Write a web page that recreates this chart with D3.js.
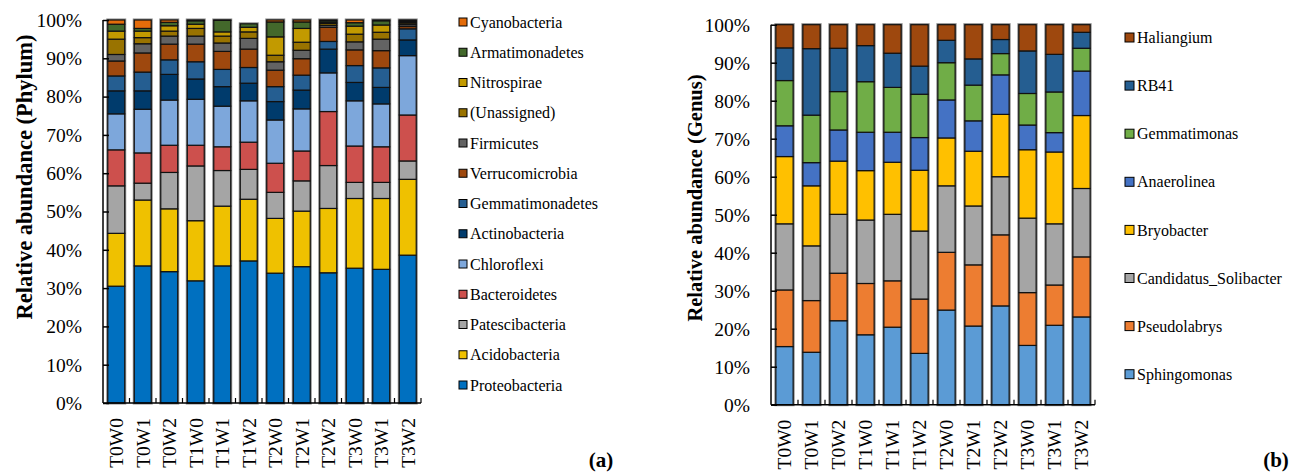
<!DOCTYPE html>
<html>

<head>
  <meta charset='utf-8'>
  <script src='https://cdn.jsdelivr.net/npm/d3@7/dist/d3.min.js'></script>
  <title></title>
  <style>
    body { margin: 0; background: #fff; }
    svg { display: block; }
    text { font-family: 'Liberation Serif', 'Times New Roman', Times, 'DejaVu Serif', serif; }
  </style>
</head>

<body>
  <div id='chart'></div>
  <script>
    var samples = ['T0W0', 'T0W1', 'T0W2', 'T1W0', 'T1W1', 'T1W2', 'T2W0', 'T2W1', 'T2W2', 'T3W0', 'T3W1', 'T3W2'];
    var yTicks = [0, 10, 20, 30, 40, 50, 60, 70, 80, 90, 100];

    // (a) phylum, listed bottom to top of the stack
    var phyla = ['Proteobacteria', 'Acidobacteria', 'Patescibacteria', 'Bacteroidetes', 'Chloroflexi',
      'Actinobacteria', 'Gemmatimonadetes', 'Verrucomicrobia', 'Firmicutes', '(Unassigned)',
      'Nitrospirae', 'Armatimonadetes', 'Cyanobacteria'];
    var phylaColors = ['#0070c0', '#efc100', '#a5a5a5', '#cd504d', '#7da7db',
      '#003b6c', '#255e91', '#9e480e', '#636363', '#997300',
      '#c29a00', '#43682b', '#e46c0a'];
    var proteobacteria = [30.5, 35.8, 34.3, 31.9, 35.8, 37.1, 33.9, 35.6, 34.0, 35.2, 34.9, 38.6];
    var acidobacteria = [13.8, 17.2, 16.4, 15.7, 15.6, 16.1, 14.3, 14.5, 16.8, 18.2, 18.5, 19.8];
    var patescibacteria = [12.4, 4.4, 9.5, 14.3, 9.3, 7.8, 6.8, 7.9, 11.2, 4.2, 4.2, 4.8];
    var bacteroidetes = [9.4, 7.9, 7.1, 5.4, 6.2, 7.1, 7.6, 7.8, 14.1, 9.5, 9.3, 12.0];
    var chloroflexi = [9.4, 11.4, 11.8, 12.0, 10.6, 10.8, 11.3, 11.0, 10.1, 11.8, 11.2, 15.5];
    var actinobacteria = [6.0, 4.8, 6.7, 5.3, 5.1, 4.6, 4.8, 4.9, 6.2, 4.8, 4.3, 4.1];
    var gemmatimonadetes = [3.9, 4.9, 3.8, 4.5, 4.5, 4.1, 3.9, 3.9, 2.0, 4.4, 5.1, 2.9];
    var verrucomicrobia = [3.9, 5.0, 4.1, 4.6, 4.7, 4.8, 4.3, 4.3, 3.7, 4.1, 4.5, 0.6];
    var firmicutes = [1.7, 2.4, 2.1, 2.1, 2.2, 2.8, 2.2, 2.2, 0.5, 2.1, 3.0, 0.5];
    var unassigned = [4.0, 1.6, 1.3, 2.0, 1.8, 1.7, 1.7, 2.1, 0.5, 2.0, 1.8, 0.4];
    var nitrospirae = [2.1, 1.7, 1.4, 1.1, 1.1, 1.2, 4.8, 3.6, 0.3, 2.1, 1.9, 0.3];
    var armatimonadetes = [1.8, 0.7, 0.9, 0.9, 3.0, 0.9, 3.9, 1.7, 0.4, 0.9, 1.1, 0.3];
    var cyanobacteria = [1.1, 2.2, 0.6, 0.2, 0.1, 0.0, 0.5, 0.5, 0.2, 0.7, 0.2, 0.2];
    var phylaValues = [proteobacteria, acidobacteria, patescibacteria, bacteroidetes, chloroflexi,
      actinobacteria, gemmatimonadetes, verrucomicrobia, firmicutes, unassigned,
      nitrospirae, armatimonadetes, cyanobacteria];

    // (b) genus, bottom to top
    var genera = ['Sphingomonas', 'Pseudolabrys', 'Candidatus_Solibacter', 'Bryobacter',
      'Anaerolinea', 'Gemmatimonas', 'RB41', 'Haliangium'];
    var generaColors = ['#5b9bd5', '#ed7d31', '#a5a5a5', '#ffc000', '#4472c4', '#70ad47', '#255e91', '#9e480e'];
    var sphingomonas = [15.3, 13.8, 22.1, 18.4, 20.4, 13.5, 24.9, 20.7, 26.0, 15.6, 20.9, 23.1];
    var pseudolabrys = [14.9, 13.6, 12.5, 13.5, 12.2, 14.3, 15.2, 16.1, 18.7, 13.9, 10.6, 15.8];
    var solibacter = [17.4, 14.4, 15.5, 16.7, 17.5, 17.9, 17.5, 15.5, 15.3, 19.6, 16.1, 18.0];
    var bryobacter = [17.7, 15.8, 14.0, 13.0, 13.7, 16.0, 12.6, 14.4, 16.4, 18.0, 18.9, 19.2];
    var anaerolinea = [8.1, 6.1, 8.2, 10.1, 7.9, 8.6, 10.0, 8.0, 10.4, 6.5, 5.1, 11.7];
    var gemmatimonas = [11.9, 12.5, 10.1, 13.3, 11.8, 11.4, 9.8, 9.4, 5.6, 8.3, 10.7, 6.0];
    var rb41 = [8.6, 17.5, 11.4, 9.5, 9.0, 7.4, 5.9, 6.9, 3.7, 11.2, 9.9, 4.2];
    var haliangium = [6.1, 6.3, 6.2, 5.5, 7.5, 10.9, 4.1, 9.0, 3.9, 6.9, 7.8, 2.0];
    var generaValues = [sphingomonas, pseudolabrys, solibacter, bryobacter, anaerolinea, gemmatimonas, rb41, haliangium];

    var serif = "'Liberation Serif', 'Times New Roman', Times, serif";

    var svg = d3.select('#chart')
      .append('svg')
      .attr('width', 1294)
      .attr('height', 472)
      .attr('font-family', serif);

    function draw(cfg) {
      var rows = samples.map(function(s, i) {
        var r = { sample: s };
        cfg.keys.forEach(function(k, j) { r[k] = cfg.values[j][i]; });
        return r;
      });

      var x = d3.scaleBand()
        .domain(samples)
        .range([cfg.left, cfg.right])
        .paddingInner(0.36)
        .paddingOuter(0.18);

      var y = d3.scaleLinear()
        .domain([0, 100])
        .range([cfg.bottom, cfg.top]);

      var stack = d3.stack().keys(cfg.keys)(rows);
      var color = d3.scaleOrdinal().domain(cfg.keys).range(cfg.colors);

      var g = svg.append('g');

      // soft grey edge round each column, as in the source picture
      g.selectAll('.halo')
        .data(rows)
        .enter()
        .append('rect')
        .attr('x', function(d) { return x(d.sample); })
        .attr('y', function(d) {
          return y(d3.sum(cfg.keys, function(k) { return d[k]; }));
        })
        .attr('width', x.bandwidth())
        .attr('height', function(d) {
          return cfg.bottom - y(d3.sum(cfg.keys, function(k) { return d[k]; }));
        })
        .attr('fill', 'none')
        .attr('stroke', '#888')
        .attr('stroke-width', 3);

      g.selectAll('.layer')
        .data(stack)
        .enter()
        .append('g')
        .attr('fill', function(d) { return color(d.key); })
        .selectAll('rect')
        .data(function(d) { return d; })
        .enter()
        .append('rect')
        .attr('x', function(d) { return x(d.data.sample); })
        .attr('y', function(d) { return y(d[1]); })
        .attr('width', x.bandwidth())
        .attr('height', function(d) { return y(d[0]) - y(d[1]); })
        .attr('stroke', '#111')
        .attr('stroke-width', 1.2);

      // y axis, ticks inside like Excel
      var yAxis = g.append('g')
        .attr('transform', 'translate(' + cfg.left + ',0)')
        .call(d3.axisRight(y).tickValues(yTicks).tickSize(6).tickFormat(''));
      yAxis.select('.domain').attr('stroke', '#000').attr('stroke-width', 1.5).attr('d', 'M0,' + cfg.bottom + 'V' + cfg.top);
      yAxis.selectAll('.tick line').attr('stroke', '#000').attr('stroke-width', 1.5);

      g.selectAll('.ylab')
        .data(yTicks)
        .enter()
        .append('text')
        .attr('font-family', serif)
        .attr('x', cfg.left - 21)
        .attr('y', function(d) { return y(d); })
        .attr('dy', '0.35em')
        .attr('text-anchor', 'end')
        .attr('font-size', 19.5)
        .attr('fill', '#000')
        .text(function(d) { return d + '%'; });

      // x axis line with boundary ticks
      g.append('line')
        .attr('x1', cfg.left).attr('x2', cfg.right)
        .attr('y1', cfg.bottom).attr('y2', cfg.bottom)
        .attr('stroke', '#000').attr('stroke-width', 1.5);
      g.selectAll('.xtick')
        .data(samples)
        .enter()
        .append('line')
        .attr('x1', function(d) { return x(d) + x.bandwidth() + x.step() * 0.18; })
        .attr('x2', function(d) { return x(d) + x.bandwidth() + x.step() * 0.18; })
        .attr('y1', cfg.bottom).attr('y2', cfg.bottom - 5)
        .attr('stroke', '#000').attr('stroke-width', 1.2);

      g.selectAll('.xlab')
        .data(samples)
        .enter()
        .append('text')
        .attr('font-family', serif)
        .attr('transform', function(d) {
          return 'translate(' + (x(d) + x.bandwidth() / 2) + ',' + (cfg.bottom + 15) + ') rotate(-90)';
        })
        .attr('dy', '0.35em')
        .attr('text-anchor', 'end')
        .attr('font-size', 19.5)
        .text(function(d) { return d; });

      g.append('text')
        .attr('font-family', serif)
        .attr('transform', 'translate(' + cfg.titleX + ',' + cfg.titleY + ') rotate(-90)')
        .attr('dy', '0.35em')
        .attr('text-anchor', 'middle')
        .attr('font-weight', 'bold')
        .attr('font-size', cfg.titleSize)
        .text(cfg.title);

      // legend, top of stack first
      var legendKeys = cfg.keys.slice().reverse();
      var lg = g.selectAll('.leg')
        .data(legendKeys)
        .enter()
        .append('g')
        .attr('transform', function(d, i) {
          return 'translate(' + cfg.legX + ',' + (cfg.legY + i * cfg.legStep) + ')';
        });
      lg.append('rect')
        .attr('x', 0).attr('y', -cfg.sw / 2)
        .attr('width', cfg.sw).attr('height', cfg.sw)
        .attr('fill', function(d) { return color(d); })
        .attr('stroke', '#000').attr('stroke-width', 1);
      lg.append('text')
        .attr('font-family', serif)
        .attr('x', cfg.sw + 3)
        .attr('dy', '0.35em')
        .attr('font-size', 16)
        .text(function(d) { return d; });

      svg.append('text')
        .attr('font-family', serif)
        .attr('x', cfg.tagX)
        .attr('y', 467)
        .attr('text-anchor', 'middle')
        .attr('font-weight', 'bold')
        .attr('font-size', 21)
        .text(cfg.tag);
    }

    draw({
      keys: phyla, values: phylaValues, colors: phylaColors,
      left: 103, right: 421, top: 20, bottom: 403,
      title: 'Relative abundance (Phylum)', titleX: 24, titleY: 177, titleSize: 22.5,
      legX: 459, legY: 22, legStep: 30.25, sw: 8,
      tag: '(a)', tagX: 601
    });

    draw({
      keys: genera, values: generaValues, colors: generaColors,
      left: 771, right: 1095, top: 24.7, bottom: 404.7,
      title: 'Relative abundance (Genus)', titleX: 695, titleY: 198, titleSize: 20.5,
      legX: 1125, legY: 37.5, legStep: 48.1, sw: 9,
      tag: '(b)', tagX: 1276
    });
  </script>
</body>

</html>
